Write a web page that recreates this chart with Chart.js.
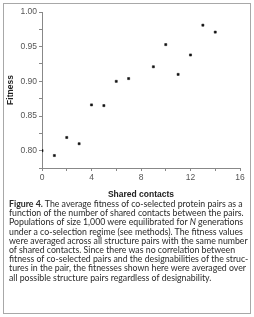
<!DOCTYPE html>
<html><head><meta charset="utf-8">
<script src="https://cdn.jsdelivr.net/npm/chart.js@4"></script>
<style>
html,body{margin:0;padding:0;background:#fff;width:254px;height:317px;overflow:hidden;}
#frame{position:absolute;left:3px;top:3px;width:246px;height:309px;border:1px solid #a8a8a8;}
#wrap{position:absolute;left:4px;top:4px;width:246px;height:196px;}
#cap{position:absolute;left:9px;top:199px;width:240px;font-family:Lato,"Open Sans",sans-serif;font-size:8.75px;line-height:9.2px;color:#2a2a2a;white-space:nowrap;}
#cap b{font-weight:bold;}
</style></head><body>
<div id="frame"></div>
<div id="wrap"><canvas id="c"></canvas></div>
<div id="cap"><b>Figure 4.</b> The average fitness of co-selected protein pairs as a<br>function of the number of shared contacts between the pairs.<br>Populations of size 1,000 were equilibrated for <i>N</i> generations<br>under a co-selection regime (see methods). The fitness values<br>were averaged across all structure pairs with the same number<br>of shared contacts. Since there was no correlation between<br>fitness of co-selected pairs and the designabilities of the struc-<br>tures in the pair, the fitnesses shown here were averaged over<br>all possible structure pairs regardless of designability.</div>
<script>
const sharedContacts = [0, 1, 2, 3, 4, 5, 6, 7, 9, 10, 11, 12, 13, 14];
const fitness = [0.800, 0.793, 0.819, 0.810, 0.866, 0.865, 0.900, 0.904, 0.921, 0.953, 0.910, 0.938, 0.981, 0.971];
const xTickLabels = ['0', '4', '8', '12', '16'];
const yTickLabels = ['0.80', '0.85', '0.90', '0.95', '1.00'];

const pts = sharedContacts.map((x, i) => ({x: x, y: fitness[i]}));
const axisCol = '#888';
const tickFont = {family: 'Arial, "Liberation Sans", sans-serif', size: 8.5};
new Chart(document.getElementById('c'), {
  type: 'scatter',
  data: {datasets: [{data: pts, pointStyle: 'rect', radius: 1.5, backgroundColor: '#111', borderColor: '#111', borderWidth: 0.5}]},
  options: {
    responsive: true, maintainAspectRatio: false, animation: false,
    layout: {padding: {top: 8, right: 10, left: 0, bottom: 0}},
    plugins: {legend: {display: false}, tooltip: {enabled: false}},
    scales: {
      x: {
        min: 0, max: 16,
        ticks: {stepSize: 2, color: '#555', font: tickFont, padding: 2, maxRotation: 0, autoSkip: false,
          callback: (v) => { const s = String(v); return xTickLabels.includes(s) ? s : ''; }},
        grid: {display: true, drawOnChartArea: false, drawTicks: true, tickLength: 3, tickColor: axisCol},
        border: {color: axisCol, width: 1},
        title: {display: true, text: 'Shared contacts', color: '#222', font: {family: 'Arial, "Liberation Sans", sans-serif', size: 8.5, weight: 'bold'}, padding: {top: 2, bottom: 0}},
        afterFit: (s) => { s.height = 32; }
      },
      y: {
        min: 0.775, max: 1.0,
        ticks: {stepSize: 0.025, color: '#555', font: tickFont, padding: 2, autoSkip: false,
          callback: (v) => { const s = Number(v).toFixed(2); const r = Math.round(v * 1000); return (r % 50 === 0 && yTickLabels.includes(s)) ? s : ''; }},
        grid: {display: true, drawOnChartArea: false, drawTicks: true, tickLength: 3, tickColor: axisCol},
        border: {color: axisCol, width: 1},
        title: {display: true, text: 'Fitness', color: '#222', font: {family: 'Arial, "Liberation Sans", sans-serif', size: 8.5, weight: 'bold'}, padding: {top: 2, bottom: 0}},
        afterFit: (s) => { s.width = 38; }
      }
    }
  }
});
</script>
</body></html>
